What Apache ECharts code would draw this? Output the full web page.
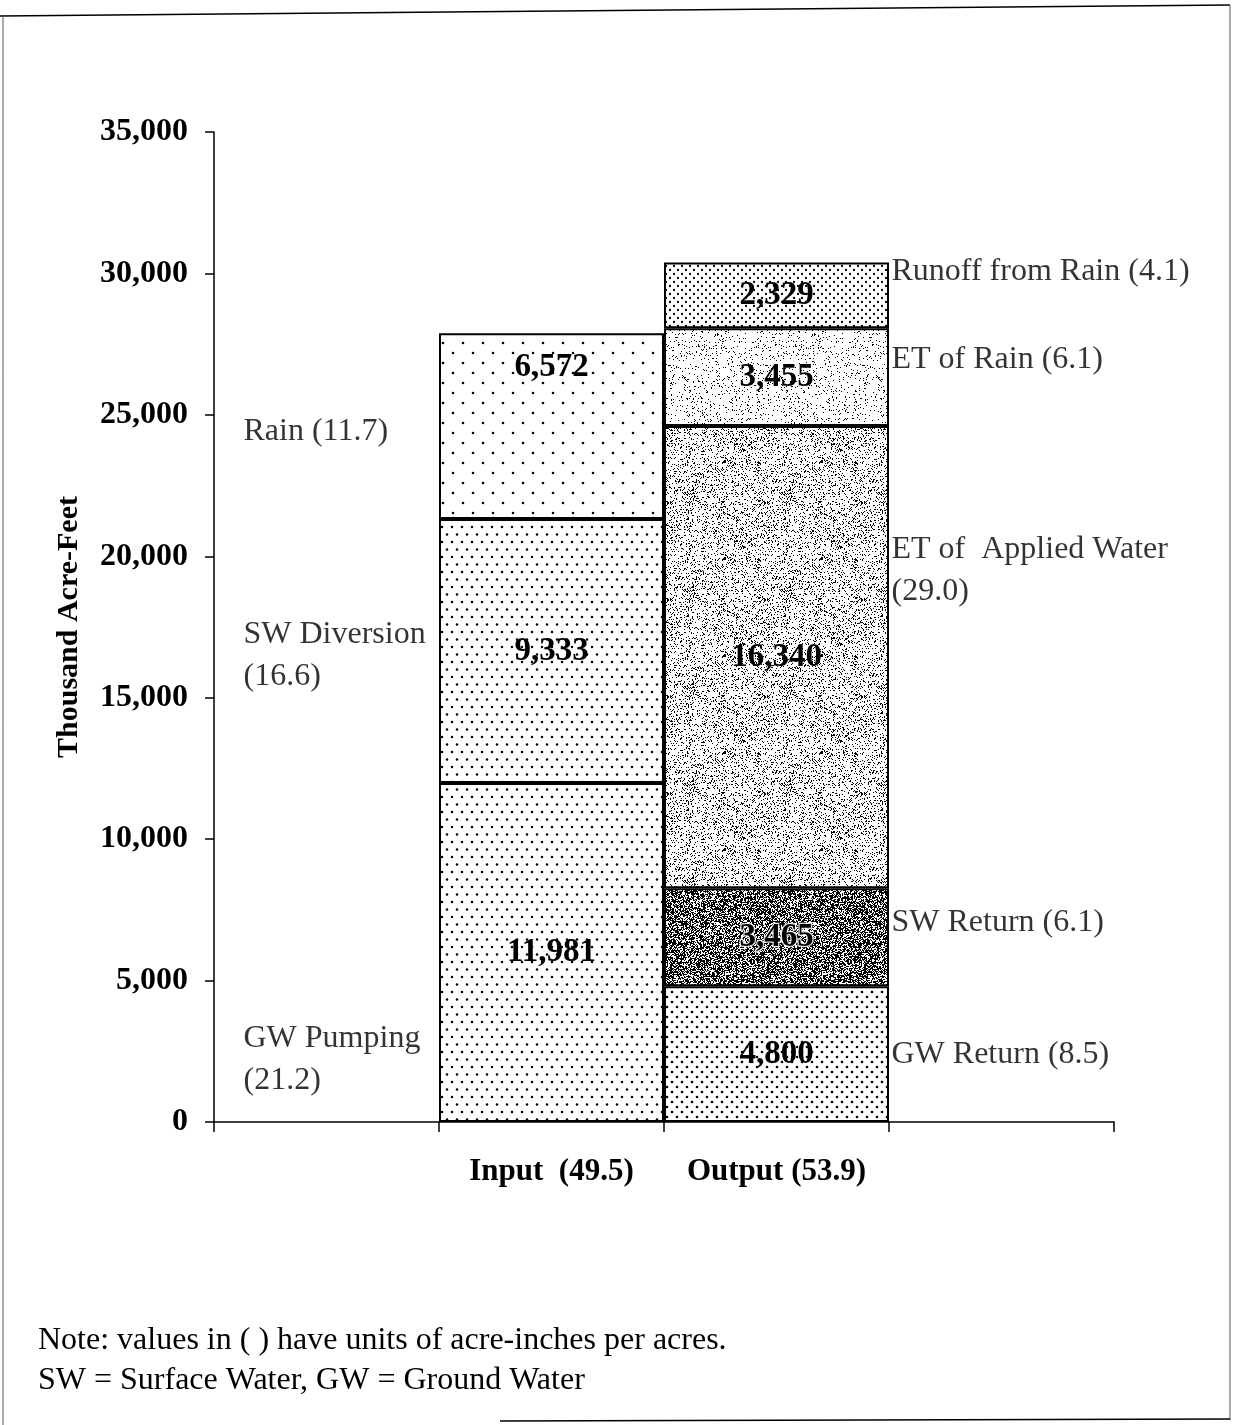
<!DOCTYPE html>
<html>
<head>
<meta charset="utf-8">
<script src="https://cdn.jsdelivr.net/npm/echarts@6/dist/echarts.min.js"></script>
<style>
  html, body { margin: 0; padding: 0; background: #fff; }
  #chart { width: 1242px; height: 1425px; }
</style>
</head>
<body>
<div id="chart"></div>
<script>
// categories: blank slot left for notes, the two bars, blank slot right for notes
const categories = ['', 'Input  (49.5)', 'Output (53.9)', ''];

// input stack, bottom to top
const inputNames = ['GW Pumping', 'SW Diversion', 'Rain'];
const inputValues = [11981, 9333, 6572];

// output stack, bottom to top
const outputNames = ['GW Return', 'SW Return', 'ET of Applied Water', 'ET of Rain', 'Runoff from Rain'];
const outputValues = [4800, 3465, 16340, 3455, 2329];

// side notes and the y value they sit at
const leftNotes = ['GW Pumping\n(21.2)', 'SW Diversion\n(16.6)', 'Rain (11.7)'];
const leftNoteAt = [2200, 16500, 24400];
const rightNotes = ['GW Return (8.5)', 'SW Return (6.1)', 'ET of  Applied Water\n(29.0)', 'ET of Rain (6.1)', 'Runoff from Rain (4.1)'];
const rightNoteAt = [2400, 7050, 19500, 26950, 30050];

const serif = '"Liberation Serif", "Times New Roman", serif';

// --- fill textures (style only) ---
function dots(w, h, pts, r) {
  const c = document.createElement('canvas');
  c.width = w; c.height = h;
  const ctx = c.getContext('2d');
  ctx.fillStyle = '#fff';
  ctx.fillRect(0, 0, w, h);
  ctx.fillStyle = '#000';
  pts.forEach(p => {
    ctx.beginPath();
    ctx.arc(p[0], p[1], r, 0, Math.PI * 2);
    ctx.fill();
  });
  return { image: c, repeat: 'repeat' };
}

function speckle(size, density, seed) {
  const c = document.createElement('canvas');
  c.width = size; c.height = size;
  const ctx = c.getContext('2d');
  ctx.fillStyle = '#fff';
  ctx.fillRect(0, 0, size, size);
  ctx.fillStyle = '#000';
  let s = seed;
  const next = () => { s = (s * 1103515245 + 12345) % 2147483648; return s / 2147483648; };
  for (let y = 0; y < size; y++) {
    for (let x = 0; x < size; x++) {
      if (next() < density) ctx.fillRect(x, y, 1, 1);
    }
  }
  return { image: c, repeat: 'repeat' };
}

const inputFills = [
  dots(10, 15, [[2, 2], [7, 9.5]], 1.25),
  dots(10, 15, [[2, 2], [7, 9.5]], 1.25),
  dots(20, 20, [[3, 3], [13, 13]], 1.3)
];
const outputFills = [
  dots(10, 10, [[2, 2], [7, 7]], 1.3),
  speckle(97, 0.58, 7),
  speckle(97, 0.17, 11),
  speckle(97, 0.07, 3),
  dots(8, 8, [[2, 2], [6, 6]], 1.15)
];

function fmt(p) {
  return Number(p.value).toLocaleString('en-US');
}

const series = [];
inputNames.forEach((name, i) => {
  series.push({
    name: name,
    type: 'bar',
    stack: 'total',
    barCategoryGap: '0%',
    data: ['-', inputValues[i], '-', '-'],
    itemStyle: { color: inputFills[i], borderColor: '#000', borderWidth: 2 },
    label: {
      show: true,
      position: name === 'Rain' ? 'insideTop' : 'inside',
      distance: 18,
      formatter: fmt,
      color: '#000',
      fontFamily: serif,
      fontWeight: 'bold',
      fontSize: 33
    }
  });
});
outputNames.forEach((name, i) => {
  series.push({
    name: name,
    type: 'bar',
    stack: 'total',
    barCategoryGap: '0%',
    data: ['-', '-', outputValues[i], '-'],
    itemStyle: { color: outputFills[i], borderColor: '#000', borderWidth: 2 },
    label: {
      show: true,
      position: 'inside',
      formatter: fmt,
      color: '#000',
      fontFamily: serif,
      fontWeight: 'bold',
      fontSize: 33,
      textBorderColor: name === 'SW Return' ? 'rgba(255,255,255,0.85)' : 'transparent',
      textBorderWidth: name === 'SW Return' ? 2.5 : 0
    }
  });
});

function noteSeries(texts, at, col, dx) {
  return {
    type: 'scatter',
    symbolSize: 1,
    itemStyle: { color: 'transparent' },
    silent: true,
    data: texts.map((t, i) => ({ value: [col, at[i]], name: t })),
    label: {
      show: true,
      position: 'inside',
      align: 'left',
      verticalAlign: 'middle',
      offset: [dx, 0],
      formatter: p => p.name,
      color: '#000',
      fontFamily: serif,
      fontSize: 32,
      lineHeight: 42
    }
  };
}
series.push(noteSeries(leftNotes, leftNoteAt, 0, -83));
series.push(noteSeries(rightNotes, rightNoteAt, 3, -110));

const chart = echarts.init(document.getElementById('chart'));
chart.setOption({
  animation: false,
  backgroundColor: '#fff',
  title: {
    text: 'Note: values in ( ) have units of acre-inches per acres.\nSW = Surface Water, GW = Ground Water',
    left: 33,
    top: 1316,
    textStyle: {
      fontFamily: serif,
      fontWeight: 'normal',
      fontSize: 32,
      lineHeight: 40,
      color: '#000'
    }
  },
  grid: { left: 214, top: 132, width: 900, height: 990 },
  xAxis: {
    type: 'category',
    data: categories,
    axisLine: { lineStyle: { color: '#000', width: 1.5 } },
    axisTick: { show: true, length: 10, interval: 0, lineStyle: { color: '#000', width: 1.5 } },
    axisLabel: {
      interval: 0,
      margin: 34,
      color: '#000',
      fontFamily: serif,
      fontWeight: 'bold',
      fontSize: 31
    }
  },
  yAxis: {
    type: 'value',
    min: 0,
    max: 35000,
    interval: 5000,
    name: 'Thousand Acre-Feet',
    nameLocation: 'middle',
    nameGap: 130,
    nameTextStyle: { fontFamily: serif, fontWeight: 'bold', fontSize: 30, color: '#000' },
    splitLine: { show: false },
    axisLine: { show: true, lineStyle: { color: '#000', width: 1.5 } },
    axisTick: { show: true, length: 9, lineStyle: { color: '#000', width: 1.5 } },
    axisLabel: {
      margin: 26,
      color: '#000',
      fontFamily: serif,
      fontWeight: 'bold',
      fontSize: 32,
      formatter: v => v.toLocaleString('en-US')
    }
  },
  graphic: [
    { type: 'line', shape: { x1: 0, y1: 16, x2: 1230, y2: 5 }, style: { stroke: '#000', lineWidth: 1.5 } },
    { type: 'line', shape: { x1: 3, y1: 16, x2: 3, y2: 1425 }, style: { stroke: '#555', lineWidth: 1 } },
    { type: 'line', shape: { x1: 1230, y1: 5, x2: 1230, y2: 1420 }, style: { stroke: '#555', lineWidth: 1 } },
    { type: 'line', shape: { x1: 500, y1: 1421, x2: 1230, y2: 1419 }, style: { stroke: '#000', lineWidth: 1.5 } }
  ],
  series: series
});
</script>
</body>
</html>
